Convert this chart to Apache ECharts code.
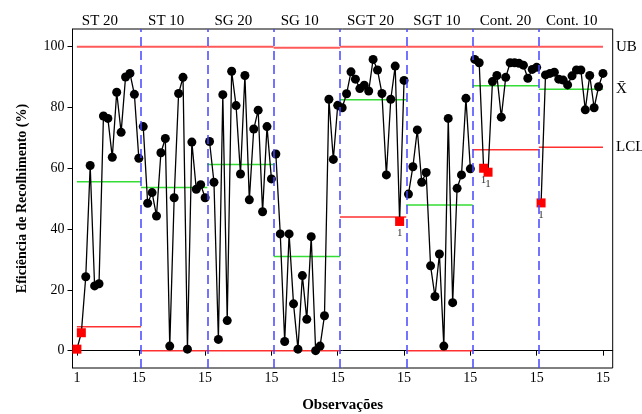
<!DOCTYPE html>
<html>
<head>
<meta charset="utf-8">
<script src="https://cdn.jsdelivr.net/npm/echarts@6/dist/echarts.min.js"></script>
<style>
html,body{margin:0;padding:0;background:#fff;}
#chart{width:642px;height:414px;}
</style>
</head>
<body>
<div id="chart"></div>
<script>
// Stage names
const stageNames = ['ST 20', 'ST 10', 'SG 20', 'SG 10', 'SGT 20', 'SGT 10', 'Cont. 20', 'Cont. 10'];

// Observations per stage (Eficiência de Recolhimento, %)
const st20   = [0.5, 5.9, 24.3, 60.9, 21.3, 22.0, 77.2, 76.4, 63.6, 85.0, 71.8, 90.0, 91.2, 84.3, 63.3];
const st10   = [73.7, 48.5, 52.0, 44.3, 65.1, 69.8, 1.5, 50.3, 84.6, 89.9, 0.5, 68.6, 53.1, 54.6, 50.3];
const sg20   = [68.8, 55.4, 3.7, 84.2, 9.9, 91.9, 80.6, 58.1, 90.5, 49.6, 72.9, 79.1, 45.7, 73.7, 56.5];
const sg10   = [64.7, 38.4, 3.0, 38.4, 15.4, 0.5, 24.7, 10.3, 37.5, 0.0, 1.5, 11.5, 82.7, 62.9, 80.7];
const sgt20  = [79.9, 84.5, 91.7, 89.3, 86.2, 87.3, 85.4, 95.8, 92.3, 84.6, 57.8, 82.7, 93.6, 42.5, 88.9];
const sgt10  = [51.5, 60.5, 72.6, 55.4, 58.6, 27.9, 17.8, 31.8, 1.5, 76.4, 15.8, 53.4, 57.8, 83.0, 59.8];
const cont20 = [95.8, 94.7, 60.0, 58.7, 88.5, 90.5, 76.8, 89.9, 94.7, 94.7, 94.5, 93.9, 89.6, 92.5, 93.2];
const cont10 = [48.6, 90.7, 91.2, 91.6, 89.3, 89.0, 87.4, 90.4, 92.3, 92.3, 79.2, 90.5, 79.9, 86.8, 91.2];

// Control limits per stage
const ubValues  = [100, 100, 100, 99.6, 100, 100, 100, 100];
const clValues  = [55.6, 53.7, 61.2, 31.0, 82.5, 47.9, 87.1, 86.0];
const lclValues = [7.9, 0, 0, 0, 44.0, 0, 66.1, 66.9];

// Out-of-control points (0-based global observation index) and which carry a "1" tag
const flaggedObs = [0, 1, 73, 92, 93, 105];
const taggedObs  = [73, 92, 93, 105];

// Axis ticks
const xTickValues = [1, 15, 30, 45, 60, 75, 90, 105, 120];
const xTickLabels = ['1', '15', '15', '15', '15', '15', '15', '15', '15'];
const yTickValues = [0, 20, 40, 60, 80, 100];

const stages = [st20, st10, sg20, sg10, sgt20, sgt10, cont20, cont10];
const FONT = '"Liberation Serif", "Times New Roman", serif';
const nStage = stages.length;
const perStage = 15;
const lastObs = nStage * perStage;

const stageStart = stages.map((s, k) => k * perStage + 1);
const boundaries = stageStart.slice(1).map(v => v - 0.5);
const stageLabelX = stageStart.map(v => v + 1.1);

const series = [];

// limit lines
function limitSeries(vals, color, width, tag) {
  vals.forEach((v, k) => {
    const x1 = k === 0 ? 1 : stageStart[k] - 0.5;
    const x2 = k === nStage - 1 ? lastObs : stageStart[k] + perStage - 0.5;
    const s = {
      type: 'line', z: 1, silent: true, symbol: 'none', animation: false,
      data: [[x1, v], [x2, v]],
      lineStyle: { color: color, width: width }
    };
    if (k === nStage - 1) {
      s.endLabel = { show: true, formatter: tag, distance: 13, color: '#000',
        fontFamily: FONT, fontSize: 15 };
    }
    series.push(s);
  });
}
limitSeries(ubValues, '#ff5a5a', 2, 'UB');
limitSeries(clValues, '#33dd33', 1.5, 'X\u0304');
limitSeries(lclValues, '#ff3030', 1.5, 'LCL');

// stage separators
series.push({
  type: 'line', z: 2, silent: true, data: [], animation: false,
  markLine: {
    silent: true, symbol: 'none', animation: false,
    label: { show: false },
    lineStyle: { color: '#4646ff', width: 1.5, type: [9, 5] },
    data: boundaries.map(b => ({ xAxis: b }))
  }
});

// observations
stages.forEach((vals, k) => {
  series.push({
    type: 'line', z: 3, animation: false,
    symbol: 'circle', symbolSize: 9,
    itemStyle: { color: '#000' },
    lineStyle: { color: '#000', width: 1.3 },
    data: vals.map((v, j) => {
      const g = k * perStage + j;
      const item = { value: [g + 1, v] };
      if (flaggedObs.indexOf(g) >= 0) {
        item.symbol = 'rect';
        item.symbolSize = 9;
        item.itemStyle = { color: '#ff0000' };
        if (taggedObs.indexOf(g) >= 0) {
          item.label = { show: true, formatter: '1', position: 'bottom', distance: 2,
            color: '#333', fontFamily: FONT, fontSize: 11 };
        }
      }
      return item;
    })
  });
});

const chart = echarts.init(document.getElementById('chart'), null, { renderer: 'canvas' });
chart.setOption({
  animation: false,
  backgroundColor: '#fff',
  grid: { left: 72.5, right: 29.3, top: 29, bottom: 46, show: true, outerBoundsMode: 'none',
    containLabel: false,
    borderColor: '#000', borderWidth: 1, backgroundColor: 'transparent' },
  xAxis: [{
    type: 'value', min: 0, max: 122.2, position: 'bottom',
    name: 'Observações', nameLocation: 'middle', nameGap: 30,
    nameTextStyle: { fontFamily: FONT, fontSize: 15, fontWeight: 'bold', color: '#000' },
    axisLine: { show: true, lineStyle: { color: '#000', width: 1 } },
    axisTick: { show: true, customValues: xTickValues, length: 5, lineStyle: { color: '#000' } },
    axisLabel: { customValues: xTickValues, margin: 3, color: '#000', fontFamily: FONT, fontSize: 14,
      formatter: v => xTickLabels[xTickValues.indexOf(v)] },
    splitLine: { show: false }
  }, {
    type: 'value', min: 0, max: 122.2, position: 'top',
    axisLine: { show: false }, axisTick: { show: false },
    axisLabel: { customValues: stageLabelX, margin: 0, align: 'left', color: '#000',
      fontFamily: FONT, fontSize: 15,
      formatter: v => stageNames[stageLabelX.indexOf(v)] },
    splitLine: { show: false }
  }],
  yAxis: {
    type: 'value', min: -5.7, max: 105.8,
    name: 'Eficiência de Recolhimento (%)', nameLocation: 'middle', nameGap: 43,
    nameTextStyle: { fontFamily: FONT, fontSize: 14, fontWeight: 'bold', color: '#000' },
    axisLine: { show: true, lineStyle: { color: '#000', width: 1 } },
    axisTick: { show: true, customValues: yTickValues, length: 5, lineStyle: { color: '#000' } },
    axisLabel: { customValues: yTickValues, margin: 8, color: '#000', fontFamily: FONT, fontSize: 14 },
    splitLine: { show: false }
  },
  series: series
});
</script>
</body>
</html>
